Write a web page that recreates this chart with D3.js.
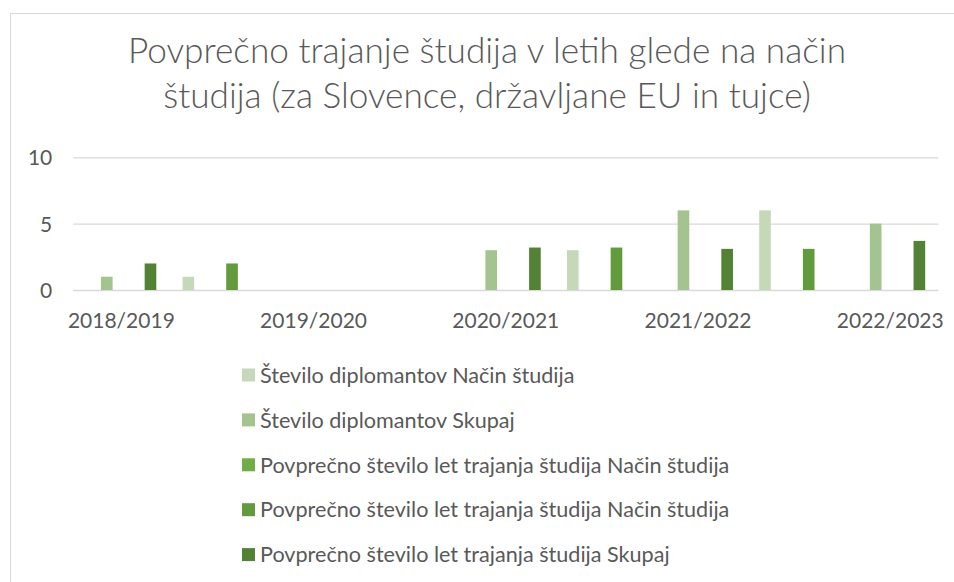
<!DOCTYPE html>
<html>
<head>
<meta charset="utf-8">
<script src="https://cdn.jsdelivr.net/npm/d3@7"></script>
<style>
  html, body { margin: 0; padding: 0; background: #fff; }
  svg { display: block; font-family: Lato, "Open Sans", sans-serif; }
</style>
</head>
<body>
<svg id="chart" width="954" height="582"></svg>
<script>
// categories (only every other label is shown on the axis, as in the original)
const categories = ["2018/2019", "", "2019/2020", "", "2020/2021", "", "2021/2022", "", "2022/2023"];
const yTicks = [0, 5, 10];

const seriesNames = [
    "Število diplomantov Način študija",
    "Število diplomantov Skupaj",
    "Povprečno število let trajanja študija Način študija",
    "Povprečno število let trajanja študija Način študija",
    "Povprečno število let trajanja študija Skupaj"
];
const steviloNacin = [null, 1, null, null, null, 3, null, 6, null];
const steviloSkupaj = [1, null, null, null, 3, null, 6, null, 5];
const povpNacin1 = [null, null, null, null, null, null, null, null, null];
const povpNacin2 = [null, 2, null, null, null, 3.2, null, 3.1, null];
const povpSkupaj = [2, null, null, null, 3.2, null, 3.1, null, 3.7];
const seriesValues = [steviloNacin, steviloSkupaj, povpNacin1, povpNacin2, povpSkupaj];
const colors = ["#c5d9b9", "#a3c48e", "#70ad47", "#629a3e", "#548235"];

const svg = d3.select('#chart');
const textColor = '#595959';
const gridColor = '#d9d9d9';

// chart frame
svg.append('rect')
    .attr('x', 10.5).attr('y', 13.5)
    .attr('width', 960).attr('height', 600)
    .attr('fill', '#fff')
    .attr('stroke', '#d9d9d9')
    .attr('stroke-width', 1);

// title
const title = svg.append('text')
    .attr('text-anchor', 'middle')
    .attr('fill', textColor)
    .style('font-size', '35.2px')
    .style('font-weight', 300);
title.append('tspan').attr('x', 487).attr('y', 63)
    .text('Povprečno trajanje študija v letih glede na način');
title.append('tspan').attr('x', 487).attr('y', 108)
    .text('študija (za Slovence, državljane EU in tujce)');

const plot = { left: 73.3, right: 938.3, top: 157.3, bottom: 290 };

const x = d3.scaleBand()
    .domain(d3.range(categories.length))
    .range([plot.left, plot.right])
    .padding(0);

const xs = d3.scaleBand()
    .domain(d3.range(seriesNames.length))
    .range([0, x.bandwidth()])
    .paddingInner(0.2)
    .paddingOuter(0.9);

const y = d3.scaleLinear()
    .domain([0, 10])
    .range([plot.bottom, plot.top]);

// gridlines + y labels
const yAxis = svg.append('g')
    .attr('transform', `translate(${plot.left},0)`)
    .call(d3.axisLeft(y).tickValues(yTicks).tickSize(-(plot.right - plot.left)).tickPadding(21));
yAxis.select('.domain').remove();
yAxis.selectAll('.tick line').attr('stroke', gridColor).attr('stroke-width', 1.3);
yAxis.selectAll('.tick text')
    .attr('fill', textColor)
    .style('font-size', '21px')
    .style('font-family', 'Lato, sans-serif')
    .attr('dy', '0.36em');

// bars
seriesValues.forEach((vals, s) => {
    svg.append('g')
        .selectAll('rect')
        .data(vals.map((v, i) => ({ i, v })).filter(d => d.v != null))
        .enter()
        .append('rect')
        .attr('x', d => x(d.i) + xs(s))
        .attr('width', xs.bandwidth())
        .attr('y', d => y(d.v))
        .attr('height', d => y(0) - y(d.v))
        .attr('fill', colors[s]);
});

// x labels
const xAxis = svg.append('g')
    .attr('transform', `translate(0,${plot.bottom})`)
    .call(d3.axisBottom(x)
        .tickValues(d3.range(categories.length).filter(i => categories[i] !== ''))
        .tickFormat(i => categories[i])
        .tickSize(0)
        .tickPadding(23));
xAxis.select('.domain').remove();
xAxis.selectAll('.tick text')
    .attr('fill', textColor)
    .style('font-size', '21px')
    .style('font-family', 'Lato, sans-serif');

// legend
const legend = svg.append('g').attr('transform', 'translate(242,375)');
const items = legend.selectAll('g')
    .data(seriesNames)
    .enter()
    .append('g')
    .attr('transform', (d, i) => `translate(0,${i * 44.9})`);
items.append('rect')
    .attr('x', 0).attr('y', -6.5)
    .attr('width', 13).attr('height', 13)
    .attr('fill', (d, i) => colors[i]);
items.append('text')
    .attr('x', 18)
    .attr('dy', '0.36em')
    .attr('fill', textColor)
    .style('font-size', '21.6px')
    .text(d => d);
</script>
</body>
</html>
